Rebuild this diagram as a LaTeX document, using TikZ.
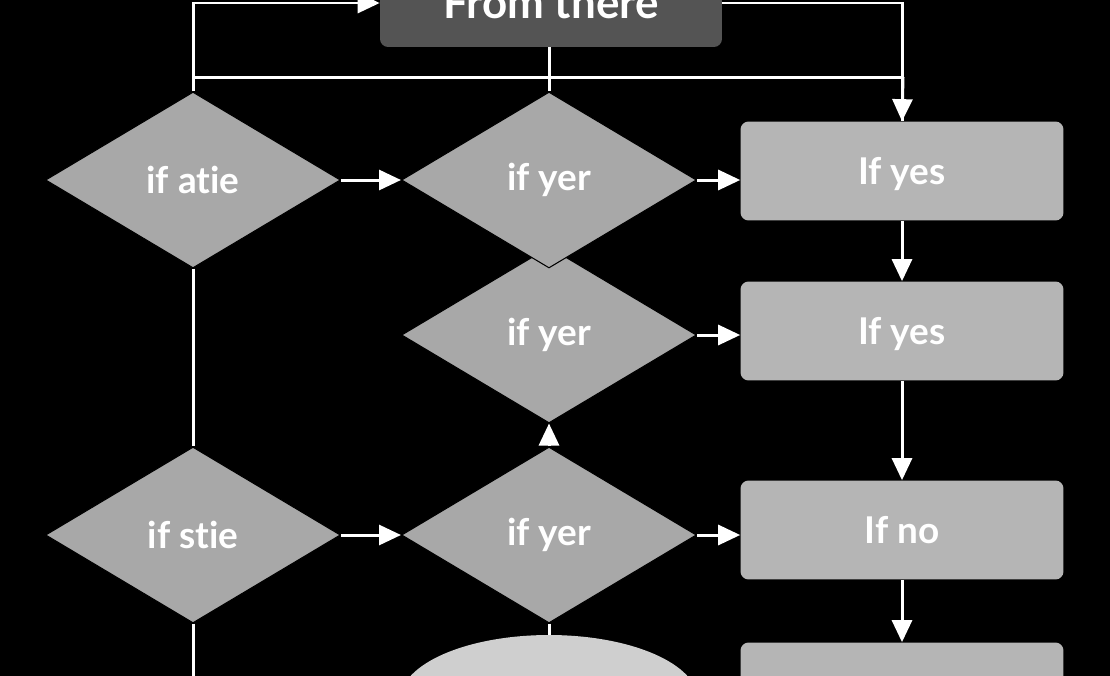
\documentclass[tikz,border=0pt]{standalone}
\usepackage{fontspec}
\setmainfont{Lato}[Ligatures=NoCommon]
\usetikzlibrary{shapes.geometric,arrows.meta}
\begin{document}
\begin{tikzpicture}[x=0.02cm,y=-0.02cm,
    every node/.style={font=\fontsize{21}{24}\selectfont\bfseries,text=white},
    decision/.style={diamond,fill=black!34,draw=black,line width=0.6pt,
        minimum width=5.9cm,minimum height=3.52cm,inner sep=0pt},
    result/.style={rectangle,rounded corners=0.16cm,fill=black!29,
        minimum width=6.46cm,minimum height=1.98cm,text depth=0pt},
    wire/.style={white,line width=0.06cm},
    flow/.style={wire,-{Triangle[length=0.44cm,width=0.4cm]}}]
    \fill[black] (0,0) rectangle (1110,676);
    \clip (0,0) rectangle (1110,676);
    \node[rectangle,rounded corners=0.16cm,fill=black!67,minimum width=6.84cm,
        minimum height=2cm] (from) at (551,-3) {};
    \node[font=\fontsize{25}{28}\selectfont\bfseries] (fromtext) at (551,2) {From there};
    \node[decision] (d3) at (549,335) {if yer};
    \node[decision] (d1) at (193,180) {if atie};
    \node[decision] (d2) at (549,180) {if yer};
    \node[decision] (d4) at (193,535) {if stie};
    \node[decision] (d5) at (549,535) {if yer};
    \node[result] (yes1) at (902,171) {If yes};
    \node[result] (yes2) at (902,331) {If yes};
    \node[result] (no) at (902,530) {If no};
    \node[result] (last) at (902,692) {};
    \node[ellipse,fill=black!19,minimum width=5.96cm,minimum height=2.6cm] (stop) at (549,700) {};
    \coordinate (busL) at (193,77);
    \coordinate (busR) at (903,77);
    \coordinate (endL) at (193,690);
    % top connections
    \draw[flow] (d1.north) |- (from.west |- 0,3);
    \draw[wire] (from.east |- 0,3) -| (yes1.north);
    \draw[flow] (busR) -- (yes1.north);
    \draw[wire] (busL) -- (busR);
    \draw[wire] (d2.north |- from.south) -- (d2.north);
    % rows
    \draw[flow] (d1.east) -- (d2.west);
    \draw[flow] (d2.east) -- (d2.east -| yes1.west);
    \draw[flow] (d3.east) -- (d3.east -| yes2.west);
    \draw[flow] (d4.east) -- (d5.west);
    \draw[flow] (d5.east) -- (d5.east -| no.west);
    \draw[flow] (d5.north) -- (d3.south);
    \draw[wire] (d1.south) -- (d4.north);
    \draw[wire] (d4.south) -- (endL);
    \draw[wire] (d5.south) -- (stop.north);
    % right column
    \draw[flow] (yes1.south) -- (yes2.north);
    \draw[flow] (yes2.south) -- (no.north);
    \draw[flow] (no.south) -- (last.north);
\end{tikzpicture}
\end{document}
